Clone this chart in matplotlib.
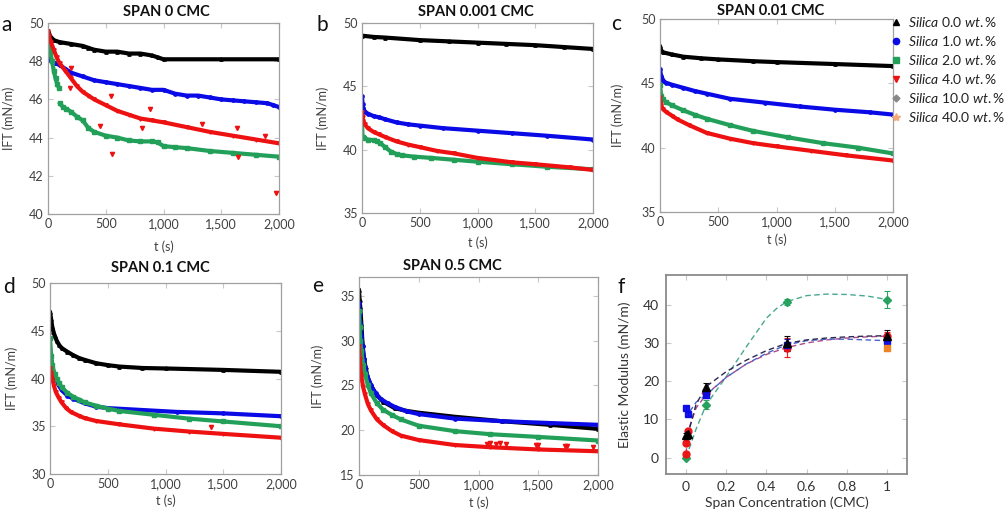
import matplotlib
matplotlib.use('Agg')
import matplotlib.pyplot as plt
from matplotlib.ticker import FuncFormatter
from matplotlib.lines import Line2D
import numpy as np

plt.rcParams['font.family'] = ['Lato', 'DejaVu Sans']
plt.rcParams['mathtext.fontset'] = 'custom'
plt.rcParams['mathtext.rm'] = 'Lato'
plt.rcParams['mathtext.it'] = 'Lato:italic'

# ---------------- data ----------------
series_names = ['Silica 0.0 wt.%', 'Silica 1.0 wt.%', 'Silica 2.0 wt.%',
                'Silica 4.0 wt.%', 'Silica 10.0 wt.%', 'Silica 40.0 wt.%']

# Panel a: SPAN 0 CMC
a_t_black = [0, 20, 50, 100, 200, 300, 350, 400, 500, 600, 700, 800, 900, 950, 1000, 1500, 2000]
a_black = [49.6, 49.3, 49.1, 49.0, 48.9, 48.8, 48.7, 48.6, 48.5, 48.5, 48.4, 48.4, 48.3, 48.2, 48.1, 48.1, 48.1]
a_t_blue = [10, 30, 60, 100, 150, 200, 300, 400, 500, 600, 700, 800, 900, 1000, 1100, 1200, 1300,
            1400, 1500, 1600, 1700, 1800, 1900, 1950, 2000]
a_blue = [48.2, 48.0, 47.9, 47.8, 47.6, 47.4, 47.2, 47.0, 46.9, 46.8, 46.7, 46.6, 46.5, 46.5, 46.3,
          46.2, 46.2, 46.1, 46.0, 45.95, 45.9, 45.85, 45.8, 45.7, 45.6]
a_t_green = [0, 10, 20, 35, 50, 65, 80, 95, None, 100, 130, 160, 200, 250, 300, 350, 400, 500, 600,
             700, 800, 900, 950, 1000, 1100, 1200, 1400, 1600, 1800, 2000]
a_green = [49.0, 48.8, 48.5, 48.0, 47.5, 47.1, 46.8, 46.6, None, 45.8, 45.6, 45.5, 45.35, 45.1, 44.9,
           44.5, 44.3, 44.1, 44.0, 43.85, 43.8, 43.8, 43.75, 43.55, 43.5, 43.45, 43.3, 43.2, 43.1, 43.0]
a_t_red = [0, 10, 25, 50, 75, 100, 150, 200, 250, 300, 350, 400, 500, 600, 700, 800, 900, 1000,
           1200, 1400, 1600, 1800, 2000]
a_red = [49.6, 49.3, 49.0, 48.6, 48.2, 47.9, 47.5, 47.1, 46.7, 46.4, 46.2, 46.0, 45.7, 45.4, 45.2,
         45.0, 44.9, 44.8, 44.55, 44.3, 44.1, 43.9, 43.7]
a_t_red_out = [196, 188, 447, 557, 543, 814, 880, 1333, 1636, 1645, 1876, 1971]
a_red_out = [47.67, 46.6, 44.6, 43.15, 46.2, 44.5, 45.5, 44.7, 44.5, 43.0, 44.1, 41.1]

# Panel b: SPAN 0.001 CMC
b_t_black = [0, 100, 200, 500, 750, 1000, 1250, 1500, 1750, 2000]
b_black = [49.0, 48.9, 48.85, 48.65, 48.55, 48.45, 48.35, 48.25, 48.1, 47.95]
b_t_blue = [0, 5, 10, 25, 50, 100, 150, 200, 300, 400, 500, 700, 1000, 1300, 1600, 2000]
b_blue = [44.2, 43.6, 43.3, 43.0, 42.85, 42.65, 42.55, 42.4, 42.15, 42.0, 41.9, 41.7, 41.5, 41.3, 41.1, 40.8]
b_t_green = [0, 5, 20, 50, 100, 130, 160, 200, 250, 300, 350, 450, 600, 800, 1000, 1300, 1600, 2000]
b_green = [42.1, 41.0, 40.9, 40.8, 40.75, 40.65, 40.5, 40.2, 39.85, 39.65, 39.55, 39.45, 39.35,
           39.2, 39.05, 38.85, 38.65, 38.45]
b_t_red = [0, 5, 10, 25, 50, 100, 150, 200, 300, 400, 500, 650, 800, 1000, 1300, 1500, 1800, 2000]
b_red = [43.0, 42.6, 42.3, 42.0, 41.7, 41.4, 41.2, 41.0, 40.65, 40.4, 40.2, 39.9, 39.7, 39.35,
         39.0, 38.85, 38.6, 38.4]

# Panel c: SPAN 0.01 CMC
c_t_black = [0, 10, 30, 100, 200, 350, 500, 800, 1000, 1500, 2000]
c_black = [47.9, 47.55, 47.4, 47.25, 47.07, 46.95, 46.86, 46.72, 46.65, 46.5, 46.34]
c_t_blue = [0, 10, 30, 50, 100, 200, 300, 400, 600, 900, 1200, 1500, 1800, 2000]
c_blue = [46.1, 45.55, 45.2, 45.05, 44.9, 44.65, 44.4, 44.2, 43.8, 43.5, 43.2, 42.95, 42.75, 42.57]
c_t_green = [0, 10, 25, 50, 100, 200, 300, 400, 600, 800, 1100, 1400, 1700, 2000]
c_green = [44.9, 44.05, 43.75, 43.55, 43.3, 42.9, 42.55, 42.25, 41.75, 41.3, 40.8, 40.35, 40.0, 39.55]
c_t_red = [0, 10, 25, 50, 100, 150, 250, 400, 600, 800, 1000, 1300, 1600, 2000]
c_red = [43.9, 43.3, 43.0, 42.8, 42.5, 42.2, 41.75, 41.15, 40.7, 40.35, 40.1, 39.75, 39.4, 39.0]

# Panel d: SPAN 0.1 CMC
d_t_black = [0, 10, 20, 30, 40, 60, 80, 100, 150, 200, 250, 300, 400, 500, 600, 800, 1000, 1500, 2000]
d_black = [47.0, 46.2, 45.4, 44.9, 44.5, 43.9, 43.5, 43.2, 42.8, 42.45, 42.15, 41.95, 41.6, 41.4,
           41.25, 41.1, 41.05, 40.9, 40.7]
d_t_blue = [10, 20, 35, 50, 75, 100, 150, 200, 300, 400, 500, 800, 1100, 1500, 2000]
d_blue = [41.8, 41.0, 40.5, 40.0, 39.3, 38.8, 38.2, 37.9, 37.4, 37.05, 36.9, 36.7, 36.5, 36.35, 36.05]
d_t_green = [0, 10, 20, 40, 60, 80, 100, 150, 200, 250, 300, 400, 500, 600, 900, 1200, 1500, 2000]
d_green = [44.2, 42.4, 41.4, 40.5, 39.9, 39.5, 39.1, 38.5, 38.1, 37.8, 37.5, 37.15, 36.85, 36.6,
           36.2, 35.8, 35.5, 35.0]
d_t_red = [0, 10, 20, 35, 50, 75, 100, 140, 180, 250, 300, 400, 600, 900, 1200, 1500, 2000]
d_red = [41.1, 40.6, 40.0, 39.2, 38.6, 38.0, 37.5, 36.9, 36.5, 36.1, 35.85, 35.55, 35.2, 34.75,
         34.45, 34.2, 33.8]
d_t_red_out = [1390]
d_red_out = [34.9]

# Panel e: SPAN 0.5 CMC
e_t_black = [0, 5, 10, 20, 30, 40, 55, 70, 100, 120, 150, 200, 300, 400, 500, 800, 1200, 1600, 2000]
e_black = [35.7, 34.5, 33.8, 31.8, 29.5, 28.2, 27.0, 26.0, 25.0, 24.5, 23.9, 23.2, 22.45, 22.15,
           21.95, 21.5, 21.0, 20.6, 20.15]
e_t_blue = [0, 5, 10, 20, 30, 40, 50, 70, 100, 140, 180, 240, 300, 400, 500, 800, 1200, 1600, 2000]
e_blue = [34.2, 33.0, 32.0, 30.5, 29.4, 28.0, 27.0, 26.0, 25.0, 24.1, 23.5, 23.0, 22.6, 22.1, 21.8,
          21.3, 21.0, 20.8, 20.6]
e_t_green = [0, 5, 10, 20, 35, 50, 75, 100, 150, 200, 275, 350, 500, 800, 1100, 1500, 2000]
e_green = [33.3, 31.5, 30.0, 28.8, 27.3, 26.3, 25.0, 24.1, 23.0, 22.3, 21.7, 21.2, 20.5, 19.9,
           19.55, 19.25, 18.85]
e_t_red = [0, 5, 10, 20, 35, 50, 75, 100, 150, 200, 275, 350, 500, 800, 1100, 1500, 2000]
e_red = [29.4, 28.0, 27.2, 26.0, 24.8, 24.0, 22.9, 22.2, 21.2, 20.6, 19.9, 19.4, 18.9, 18.35, 18.1,
         17.85, 17.65]
e_t_red_out = [1070, 1100, 1150, 1180, 1230, 1480, 1500, 1720, 1740, 1960]
e_red_out = [18.5, 18.6, 18.5, 18.6, 18.5, 18.3, 18.3, 18.2, 18.25, 18.1]

# Panel f: elastic modulus vs span concentration
f_x_black = [0, 0.01, 0.1, 0.5, 1]
f_black = [5.9, 6.2, 18.6, 29.9, 31.9]
f_err_black = [0.6, 0.6, 1.0, 2.0, 1.5]
f_x_blue = [0, 0.01, 0.1, 0.5, 1]
f_blue = [12.9, 11.4, 16.4, 29.5, 30.6]
f_err_blue = [0.5, 0.5, 0.8, 1.5, 1.0]
f_x_red = [0, 0.001, 0.01, 0.1, 0.5, 1]
f_red = [1.0, 3.9, 7.0, 17.0, 28.8, 31.8]
f_err_red = [0.5, 0.5, 0.5, 0.5, 2.5, 1.0]
f_x_green = [0, 0.1, 0.5, 1]
f_green = [0.0, 13.8, 40.8, 41.3]
f_err_green = [0.3, 1.2, 0.8, 2.2]
f_x_orange = [1]
f_orange = [28.6]
f_err_orange = [0.8]
# dashed trend curves
f_curve_x = [0, 0.01, 0.05, 0.1, 0.2, 0.3, 0.4, 0.5, 0.6, 0.7, 0.8, 0.9, 1.0]
f_curve_black = [5.9, 6.2, 14.0, 18.6, 22.5, 25.5, 28.0, 29.9, 30.8, 31.3, 31.6, 31.8, 31.9]
f_curve_blue = [12.9, 11.4, 14.5, 16.4, 21.0, 24.5, 27.3, 29.5, 30.6, 31.0, 31.0, 30.8, 30.6]
f_curve_red = [1.0, 7.0, 13.0, 16.5, 21.0, 24.5, 27.0, 28.8, 30.0, 30.8, 31.3, 31.6, 31.8]
f_curve_gx = [0, 0.05, 0.1, 0.2, 0.3, 0.4, 0.45, 0.5, 0.6, 0.7, 0.8, 0.9, 1.0]
f_curve_green = [0.0, 7.5, 13.8, 21.2, 29.0, 36.5, 39.0, 40.8, 42.4, 42.8, 42.7, 42.3, 41.4]

# ---------------- style ----------------
C_BLACK = '#000000'
C_BLUE = '#0a0ae6'
C_GREEN = '#22a05a'
C_RED = '#ee1111'
C_GRAY = '#888888'
C_ORANGE = '#f5a878'
FRAME = '#a0a0a0'
TXT = '#404040'

W, H = 1008, 513
fig = plt.figure(figsize=(W / 100, H / 100), dpi=100)


def add_ax(l, t, r, b):
    return fig.add_axes([l / W, 1 - b / H, (r - l) / W, (b - t) / H])


def arr(v):
    return np.array([np.nan if x is None else x for x in v], dtype=float)


def style_ift(ax, box, ylim, yticks, xlab_y, ylab_x):
    l, t, r, b = box
    ax.set_xlim(0, 2000)
    ax.set_ylim(*ylim)
    ax.set_xticks([0, 500, 1000, 1500, 2000])
    ax.set_yticks(yticks)
    ax.xaxis.set_major_formatter(FuncFormatter(lambda v, p: f'{v:,.0f}'))
    ax.tick_params(direction='in', top=True, right=True, length=3.5, width=0.8,
                   color='#c8c8c8', labelcolor=TXT, labelsize=9, pad=3)
    for s in ax.spines.values():
        s.set_color(FRAME)
        s.set_linewidth(0.9)
    ax.set_xlabel('t (s)', color=TXT, fontsize=9)
    ax.set_ylabel('IFT (mN/m)', color=TXT, fontsize=9)
    ax.xaxis.set_label_coords(0.5, (b - xlab_y) / (b - t))
    ax.xaxis.label.set_va('center')
    ax.yaxis.set_label_coords((ylab_x - l) / (r - l), 0.5)
    ax.yaxis.label.set_va('center')


def draw_series(ax, t, v, color, marker, lw=3.0, ms=2.4):
    ax.plot(arr(t), arr(v), color=color, lw=lw, marker=marker, ms=ms,
            solid_capstyle='round', zorder=2)


def outliers(ax, t, v, color, marker):
    ax.plot(t, v, ls='none', marker=marker, color=color, ms=3.0, zorder=3)


panels = [
    # box, ylim, yticks, title, title_xy, letter_xy, xlab_y, ylab_x
    ((48, 23, 279, 214), (40, 50), [40, 42, 44, 46, 48, 50], 'SPAN 0 CMC', (166, 12), (7, 25), 247, 9),
    ((362, 23, 593, 213), (35, 50), [35, 40, 45, 50], 'SPAN 0.001 CMC', (476, 12), (322, 25), 243, 323),
    ((660, 19, 893, 212), (35, 50), [35, 40, 45, 50], 'SPAN 0.01 CMC', (771, 11), (616, 24), 240, 618),
    ((50, 283, 281, 474), (30, 50), [30, 35, 40, 45, 50], 'SPAN 0.1 CMC', (160, 268), (9, 287), 501, 12),
    ((359, 277, 598, 475), (15, 37.1), [15, 20, 25, 30, 35], 'SPAN 0.5 CMC', (452, 266), (318, 286), 503, 318),
]

data = [
    [(a_t_black, a_black), (a_t_blue, a_blue), (a_t_green, a_green), (a_t_red, a_red)],
    [(b_t_black, b_black), (b_t_blue, b_blue), (b_t_green, b_green), (b_t_red, b_red)],
    [(c_t_black, c_black), (c_t_blue, c_blue), (c_t_green, c_green), (c_t_red, c_red)],
    [(d_t_black, d_black), (d_t_blue, d_blue), (d_t_green, d_green), (d_t_red, d_red)],
    [(e_t_black, e_black), (e_t_blue, e_blue), (e_t_green, e_green), (e_t_red, e_red)],
]
colors = [C_BLACK, C_BLUE, C_GREEN, C_RED]
markers = ['^', 'o', 's', 'v']
letters = ['a', 'b', 'c', 'd', 'e']

axes = []
for (box, ylim, yt, title, txy, lxy, xly, ylx), dset, letter in zip(panels, data, letters):
    ax = add_ax(*box)
    axes.append(ax)
    style_ift(ax, box, ylim, yt, xly, ylx)
    for (t, v), c, m in zip(dset, colors, markers):
        draw_series(ax, t, v, c, m)
    fig.text(txy[0] / W, 1 - txy[1] / H, title, ha='center', va='center',
             fontsize=10.5, fontweight='bold', color='#111111')
    fig.text(lxy[0] / W, 1 - lxy[1] / H, letter, ha='center', va='center',
             fontsize=15, color='#111111')

outliers(axes[0], a_t_red_out, a_red_out, C_RED, 'v')
outliers(axes[3], d_t_red_out, d_red_out, C_RED, 'v')
outliers(axes[4], e_t_red_out, e_red_out, C_RED, 'v')

# ---------------- panel f ----------------
fl, ft, fr, fb = 666, 275, 907, 474
axf = add_ax(fl, ft, fr, fb)
axf.set_xlim(-0.1, 1.1)
axf.set_ylim(-4.3, 47.8)
axf.set_xticks([0, 0.2, 0.4, 0.6, 0.8, 1])
axf.set_xticklabels(['0', '0.2', '0.4', '0.6', '0.8', '1'])
axf.set_yticks([0, 10, 20, 30, 40])
axf.tick_params(direction='in', top=True, right=True, length=3.5, width=0.8,
                color='#c8c8c8', labelcolor='#333333', labelsize=10, pad=5)
for s in axf.spines.values():
    s.set_color('#8a8a8a')
    s.set_linewidth(1.3)
axf.set_xlabel('Span Concentration (CMC)', fontsize=10, color='#333333')
axf.set_ylabel('Elastic Modulus (mN/m)', fontsize=10, color='#333333')
axf.xaxis.set_label_coords(0.5, (fb - 503) / (fb - ft))
axf.xaxis.label.set_va('center')
axf.yaxis.set_label_coords((625 - fl) / (fr - fl), 0.5)
axf.yaxis.label.set_va('center')

dash = (0, (4, 2.5))
axf.plot(f_curve_gx, f_curve_green, color='#48a890', lw=1.0, ls=dash, zorder=2)
axf.plot(f_curve_x, f_curve_red, color='#b04a8a', lw=1.0, ls=dash, zorder=2)
axf.plot(f_curve_x, f_curve_blue, color='#4a64c8', lw=1.0, ls=dash, zorder=2)
axf.plot(f_curve_x, f_curve_black, color='#2a2a50', lw=1.0, ls=dash, zorder=2)

f_sets = [
    (f_x_green, f_green, f_err_green, C_GREEN, 'D', 4.5),
    (f_x_red, f_red, f_err_red, C_RED, 'o', 5),
    (f_x_blue, f_blue, f_err_blue, C_BLUE, 's', 5),
    (f_x_orange, f_orange, f_err_orange, '#f08020', 's', 5),
    (f_x_black, f_black, f_err_black, C_BLACK, '^', 6),
]
for x, y, e, c, m, ms in f_sets:
    axf.errorbar(x, y, yerr=e, fmt=m, color=c, ms=ms, ecolor=c, elinewidth=0.8,
                 capsize=2, capthick=0.8, alpha=0.95, zorder=3)
fig.text(621 / W, 1 - 287 / H, 'f', ha='center', va='center', fontsize=15, color='#111111')

# ---------------- legend ----------------
leg_markers = ['^', 'o', 's', 'v', 'D', '*']
leg_colors = [C_BLACK, C_BLUE, C_GREEN, C_RED, C_GRAY, C_ORANGE]
leg_sizes = [4.5, 4.5, 4.5, 4.5, 3.5, 6]
handles = [Line2D([], [], ls='none', marker=m, color=c, ms=s)
           for m, c, s in zip(leg_markers, leg_colors, leg_sizes)]
labels = []
for n in series_names:
    parts = n.split(' ')
    labels.append(r'$\mathit{' + parts[0] + r'}$ ' + parts[1] + r' $\mathit{wt.\%}$')
fig.legend(handles, labels, loc='upper left', bbox_to_anchor=(890 / W, 1 - 15 / H),
           frameon=False, fontsize=10, handlelength=0.8, handletextpad=0.5,
           labelspacing=0.36, borderaxespad=0, borderpad=0, labelcolor='#222222')

fig.savefig('out.png', dpi=100)
